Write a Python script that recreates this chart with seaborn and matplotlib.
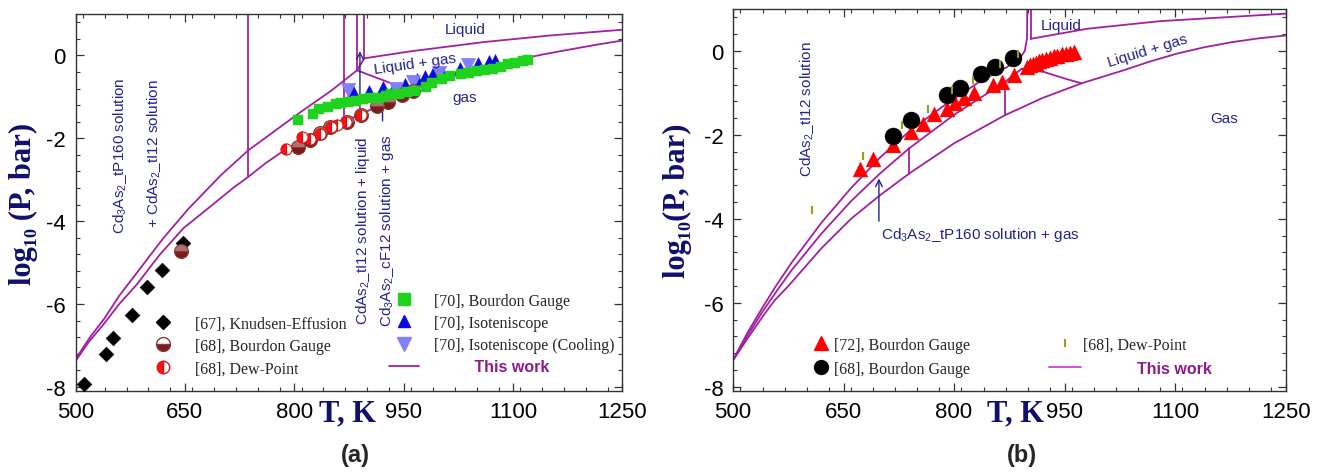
import matplotlib
matplotlib.use("Agg")
import matplotlib.pyplot as plt
from matplotlib.lines import Line2D
from matplotlib.ticker import MultipleLocator
import seaborn as sns

# ---------------- data : panel (a) ----------------
# "This work" phase boundaries
a_upper_T = [500, 520, 540, 560, 584, 620, 655, 700, 737, 775, 810, 850, 886]
a_upper_P = [-7.33, -6.80, -6.34, -5.80, -5.25, -4.42, -3.70, -2.88, -2.29, -1.80, -1.35, -0.86, -0.36]
a_lower_T = [500, 518, 538, 560, 584, 615, 648, 684, 716, 737, 760, 787, 820, 849, 892, 930, 958,
             1000, 1034, 1070, 1105, 1140, 1180, 1215, 1250]
a_lower_P = [-7.38, -6.92, -6.50, -6.00, -5.53, -4.82, -4.17, -3.66, -3.20, -2.93, -2.61, -2.28,
             -1.98, -1.72, -1.42, -1.08, -0.84, -0.60, -0.42, -0.26, -0.11, 0.02, 0.15, 0.26, 0.36]
a_vert1_T = [737, 737]
a_vert1_P = [1.2, -2.93]
a_vert2_T = [868, 868]
a_vert2_P = [1.2, -1.55]
a_vert3_T = [886, 886]
a_vert3_P = [1.2, -0.36]
a_vert4_T = [896, 896]
a_vert4_P = [1.2, -0.07]
a_link_T = [886, 896]
a_link_P = [-0.36, -0.07]
a_liquid_T = [896, 960, 1059, 1150, 1250]
a_liquid_P = [-0.07, 0.10, 0.32, 0.48, 0.62]
a_gasb_T = [886, 958]
a_gasb_P = [-0.36, -0.84]

# experimental data
knudsen67_T = [511, 542, 551, 578, 598, 618, 648]
knudsen67_P = [-7.94, -7.20, -6.82, -6.26, -5.59, -5.17, -4.53]
bourdon68_T = [644, 805, 821, 835, 849, 872, 892, 913, 929, 947, 963]
bourdon68_P = [-4.71, -2.20, -2.04, -1.88, -1.72, -1.60, -1.44, -1.21, -1.13, -0.96, -0.86]
dew68_T = [789, 811, 822, 835, 851, 858, 871, 891]
dew68_P = [-2.27, -1.97, -2.02, -1.89, -1.73, -1.68, -1.60, -1.45]
bourdon70_T = [805, 825, 834, 846, 857, 864, 874, 884, 894, 905, 916, 926, 933, 944, 955, 965,
               980, 989, 1002, 1014, 1029, 1039, 1051, 1062, 1073, 1083, 1093, 1103, 1113, 1120]
bourdon70_P = [-1.57, -1.41, -1.30, -1.25, -1.18, -1.16, -1.12, -1.10, -1.06, -1.04, -1.02, -0.98,
               -0.94, -0.92, -0.89, -0.86, -0.77, -0.66, -0.58, -0.50, -0.46, -0.42, -0.37, -0.35,
               -0.32, -0.29, -0.21, -0.18, -0.14, -0.10]
iso70_T = [880, 902, 921, 936, 952, 968, 979, 990, 1003, 1027, 1052, 1067, 1075]
iso70_P = [-0.86, -0.85, -0.76, -0.80, -0.70, -0.58, -0.50, -0.43, -0.40, -0.30, -0.19, -0.14, -0.11]
isocool70_T = [874, 940, 963, 999, 1038]
isocool70_P = [-0.84, -0.80, -0.65, -0.42, -0.23]

# ---------------- data : panel (b) ----------------
b_U_T = [500, 520, 540, 560, 580, 620, 660, 700, 740, 784, 833, 870, 887, 896, 899, 899.5]
b_U_P = [-7.36, -6.70, -6.11, -5.55, -5.03, -4.09, -3.27, -2.53, -1.90, -1.33, -0.75, -0.40, -0.22,
         0.0, 0.30, 1.2]
b_M_T = [500, 520, 540, 560, 580, 620, 660, 700, 739, 800, 869, 892]
b_M_P = [-7.37, -6.77, -6.21, -5.70, -5.21, -4.35, -3.58, -2.91, -2.32, -1.52, -0.74, -0.42]
b_L_T = [500, 520, 540, 556, 575, 620, 660, 700, 739, 800, 869, 920, 973, 1030, 1066, 1103, 1140,
         1177, 1213, 1250]
b_L_P = [-7.37, -6.84, -6.33, -5.95, -5.60, -4.70, -4.00, -3.43, -2.92, -2.20, -1.53, -1.12, -0.77,
         -0.46, -0.25, -0.06, 0.09, 0.21, 0.30, 0.37]
b_conn1_T = [739, 739]
b_conn1_P = [-2.32, -2.92]
b_conn2_T = [869, 869]
b_conn2_P = [-0.74, -1.53]
b_triple_T = [892, 922, 951, 973]
b_triple_P = [-0.42, -0.50, -0.66, -0.77]
b_vert_T = [904, 904]
b_vert_P = [1.2, 0.29]
b_liquid_T = [904, 981, 1079, 1250]
b_liquid_P = [0.29, 0.53, 0.71, 0.89]

bourdon72_T = [672, 690, 717, 742, 758, 773, 790, 801, 814, 827, 853, 865, 881, 899, 903, 907, 911,
               915, 920, 925, 930, 935, 940, 946, 952, 957, 963]
bourdon72_P = [-2.81, -2.58, -2.24, -1.92, -1.74, -1.49, -1.37, -1.23, -1.13, -1.00, -0.80, -0.74,
               -0.58, -0.38, -0.34, -0.31, -0.28, -0.25, -0.22, -0.19, -0.16, -0.13, -0.11, -0.08,
               -0.06, -0.04, -0.02]
bourdon68b_T = [717, 742, 790, 808, 836, 855, 880]
bourdon68b_P = [-2.02, -1.64, -1.05, -0.87, -0.56, -0.38, -0.16]
dew68b_T = [607, 677, 729, 765, 797, 826, 862, 887]
dew68b_P = [-3.78, -2.51, -1.76, -1.37, -0.93, -0.70, -0.30, -0.06]

x_ticks = [500, 650, 800, 950, 1100, 1250]
y_ticks = [-8, -6, -4, -2, 0]

# ---------------- style ----------------
sns.set_theme(style="ticks")
plt.rcParams["font.family"] = ["Liberation Sans", "DejaVu Sans"]
plt.rcParams["axes.unicode_minus"] = False
plt.rcParams["mathtext.fontset"] = "custom"
plt.rcParams["mathtext.rm"] = "Liberation Sans"
plt.rcParams["mathtext.it"] = "Liberation Sans:italic"
plt.rcParams["mathtext.bf"] = "Liberation Sans:bold"

PURPLE = "#a21fa2"
NAVY = "#23238e"
LABEL_NAVY = "#0f0f6e"
SERIF = ["Liberation Serif", "DejaVu Serif"]
LEG_SIZE = 11.5

fig = plt.figure(figsize=(13.27, 4.77), dpi=100)
axA = fig.add_axes([0.0569, 0.1782, 0.4122, 0.7904])
axB = fig.add_axes([0.5524, 0.1782, 0.4164, 0.8008])


def line(ax, T, P):
    sns.lineplot(x=T, y=P, ax=ax, sort=False, estimator=None, color=PURPLE, lw=1.3, zorder=2)


def style_axes(ax):
    ax.set_xlim(500, 1250)
    ax.set_ylim(-8.1, 1.0)
    ax.set_xticks(x_ticks)
    ax.set_yticks(y_ticks)
    ax.xaxis.set_minor_locator(MultipleLocator(30))
    ax.yaxis.set_minor_locator(MultipleLocator(0.4))
    ax.tick_params(which="both", direction="in", top=True, right=True, colors="#333333",
                   labelcolor="black")
    ax.tick_params(which="major", length=6, width=0.9, labelsize=16, pad=7)
    ax.tick_params(which="minor", length=3, width=0.8)
    for s in ax.spines.values():
        s.set_color("#333333")
        s.set_linewidth(1.0)
    ax.set_xlabel("T, K", fontsize=22, fontweight="bold", family=SERIF, color=LABEL_NAVY)
    ax.set_ylabel("")


# ================= panel (a) =================
ax = axA
for T, P in [(a_upper_T, a_upper_P), (a_lower_T, a_lower_P), (a_vert1_T, a_vert1_P),
             (a_vert2_T, a_vert2_P), (a_vert3_T, a_vert3_P), (a_vert4_T, a_vert4_P),
             (a_link_T, a_link_P), (a_liquid_T, a_liquid_P), (a_gasb_T, a_gasb_P)]:
    line(ax, T, P)

sns.scatterplot(x=knudsen67_T, y=knudsen67_P, ax=ax, marker="D", s=55, color="black",
                edgecolor="black", linewidth=0.5, zorder=4)
ax.plot(bourdon68_T, bourdon68_P, ls="none", marker="o", markersize=10, fillstyle="bottom",
        markerfacecolor="#7a1c1c", markerfacecoloralt="#b07070", markeredgecolor="#8b3a3a",
        markeredgewidth=0.8, zorder=4)
ax.plot(dew68_T, dew68_P, ls="none", marker="o", markersize=8, fillstyle="left",
        markerfacecolor="#ff1010", markerfacecoloralt="white", markeredgecolor="#e01010",
        markeredgewidth=0.8, zorder=5)
sns.scatterplot(x=bourdon70_T, y=bourdon70_P, ax=ax, marker="s", s=60, color="#1ed21e",
                edgecolor="#1ed21e", linewidth=0.3, zorder=4)
sns.scatterplot(x=iso70_T, y=iso70_P, ax=ax, marker="^", s=75, color="#0a0ae0",
                edgecolor="#0a0ae0", linewidth=0.3, zorder=3)
sns.scatterplot(x=isocool70_T, y=isocool70_P, ax=ax, marker="v", s=110, color="#8080ff",
                edgecolor="#8080ff", linewidth=0.3, zorder=3)

txt = dict(color=NAVY, fontsize=11, ha="center", va="center")
ax.text(1034, 0.64, "Liquid", **txt)
ax.text(965, -0.2, "Liquid + gas", rotation=8, **txt)
ax.text(1034, -1.0, "gas", **txt)
ax.text(561, -2.4, r"Cd$_3$As$_2$_tP160 solution", rotation=90, **txt)
ax.text(608, -2.35, r"+ CdAs$_2$_tI12 solution", rotation=90, **txt)
ax.text(894, -4.2, r"CdAs$_2$_tI12 solution + liquid", rotation=90, **txt)
ax.text(927, -4.2, r"Cd$_3$As$_2$_cF12 solution + gas", rotation=90, **txt)
ax.annotate("", xy=(890, 0.17), xytext=(890, -1.6),
            arrowprops=dict(arrowstyle="->", color=NAVY, lw=1.0))
ax.annotate("", xy=(921, -0.88), xytext=(921, -1.65),
            arrowprops=dict(arrowstyle="-", color=NAVY, lw=1.0))

style_axes(ax)
ax.set_ylabel("log\u2081\u2080 (P, bar)", fontsize=22, fontweight="bold", family=SERIF,
              color=LABEL_NAVY)
ax.yaxis.set_label_coords(-0.068, 0.5)
ax.xaxis.set_label_coords(0.498, -0.02)
ax.xaxis.label.set_va("top")

h_kn = Line2D([], [], ls="none", marker="D", color="black", markersize=7)
h_b68 = Line2D([], [], ls="none", marker="o", markersize=10, fillstyle="bottom",
               markerfacecolor="#7a1c1c", markerfacecoloralt="white", markeredgecolor="#8b3a3a")
h_dew = Line2D([], [], ls="none", marker="o", markersize=9, fillstyle="left",
               markerfacecolor="#ff1010", markerfacecoloralt="white", markeredgecolor="#e01010")
legA1 = ax.legend([h_kn, h_b68, h_dew],
                  ["[67], Knudsen-Effusion", "[68], Bourdon Gauge", "[68], Dew-Point"],
                  loc="upper left", bbox_to_anchor=(0.146, 0.2), frameon=False,
                  borderaxespad=0, borderpad=0, handlelength=1.0, handletextpad=1.5,
                  labelspacing=0.4, prop={"family": SERIF, "size": LEG_SIZE})
ax.add_artist(legA1)
h_g = Line2D([], [], ls="none", marker="s", color="#1ed21e", markersize=8)
h_t = Line2D([], [], ls="none", marker="^", color="#0a0ae0", markersize=9)
h_c = Line2D([], [], ls="none", marker="v", color="#8080ff", markersize=10)
h_l = Line2D([], [], color=PURPLE, lw=1.3)
legA2 = ax.legend([h_g, h_t, h_c, h_l],
                  ["[70], Bourdon Gauge", "[70], Isoteniscope", "[70], Isoteniscope (Cooling)",
                   "         This work"],
                  loc="upper left", bbox_to_anchor=(0.573, 0.26), frameon=False,
                  borderaxespad=0, borderpad=0, handlelength=1.9, handletextpad=0.9,
                  labelspacing=0.38, prop={"family": SERIF, "size": LEG_SIZE})
t = legA2.get_texts()[-1]
t.set_fontfamily(["Liberation Sans", "DejaVu Sans"])
t.set_fontweight("bold")
t.set_color("#8e1a8e")

# ================= panel (b) =================
ax = axB
for T, P in [(b_U_T, b_U_P), (b_M_T, b_M_P), (b_L_T, b_L_P), (b_conn1_T, b_conn1_P),
             (b_conn2_T, b_conn2_P), (b_triple_T, b_triple_P), (b_vert_T, b_vert_P),
             (b_liquid_T, b_liquid_P)]:
    line(ax, T, P)

sns.scatterplot(x=bourdon72_T, y=bourdon72_P, ax=ax, marker="^", s=115, color="#ff0000",
                edgecolor="#ff0000", linewidth=0.3, zorder=4)
sns.scatterplot(x=bourdon68b_T, y=bourdon68b_P, ax=ax, marker="o", s=150, color="black",
                edgecolor="black", linewidth=0.3, zorder=4)
sns.scatterplot(x=dew68b_T, y=dew68b_P, ax=ax, marker="|", s=30, color="#9a9a1a",
                linewidth=1.5, zorder=5)

ax.text(946, 0.61, "Liquid", **txt)
ax.text(1062, 0.02, "Liquid + gas", rotation=17, **txt)
ax.text(1167, -1.6, "Gas", **txt)
ax.text(600, -1.37, r"CdAs$_2$_tI12 solution", rotation=90, **txt)
ax.text(836, -4.37, r"Cd$_3$As$_2$_tP160 solution + gas", **txt)
ax.annotate("", xy=(698, -2.97), xytext=(698, -4.12),
            arrowprops=dict(arrowstyle="->", color=NAVY, lw=1.0))

style_axes(ax)
ax.set_ylabel("log\u2081\u2080(P, bar)", fontsize=22, fontweight="bold", family=SERIF,
              color=LABEL_NAVY)
ax.yaxis.set_label_coords(-0.074, 0.5)
ax.xaxis.set_label_coords(0.512, -0.02)
ax.xaxis.label.set_va("top")

h_r = Line2D([], [], ls="none", marker="^", color="#ff0000", markersize=10)
h_k = Line2D([], [], ls="none", marker="o", color="black", markersize=10)
legB1 = ax.legend([h_r, h_k], ["[72], Bourdon Gauge", "[68], Bourdon Gauge"],
                  loc="upper left", bbox_to_anchor=(0.144, 0.142), frameon=False,
                  borderaxespad=0, borderpad=0, handlelength=1.0, handletextpad=0.37,
                  labelspacing=0.5, prop={"family": SERIF, "size": LEG_SIZE})
ax.add_artist(legB1)
h_d = Line2D([], [], ls="none", marker="|", color="#9a9a1a", markersize=6, markeredgewidth=1.5)
h_l2 = Line2D([], [], color="#d040d0", lw=1.3)
legB2 = ax.legend([h_d, h_l2], ["[68], Dew-Point", "            This work"],
                  loc="upper left", bbox_to_anchor=(0.572, 0.142), frameon=False,
                  borderaxespad=0, borderpad=0, handlelength=2.0, handletextpad=0.15,
                  labelspacing=0.5, prop={"family": SERIF, "size": LEG_SIZE})
t = legB2.get_texts()[-1]
t.set_fontfamily(["Liberation Sans", "DejaVu Sans"])
t.set_fontweight("bold")
t.set_color("#8e1a8e")

fig.text(0.2675, 0.046, "(a)", fontsize=17, fontweight="bold", ha="center", va="center")
fig.text(0.770, 0.046, "(b)", fontsize=17, fontweight="bold", ha="center", va="center")

fig.savefig("out.png", dpi=100)
